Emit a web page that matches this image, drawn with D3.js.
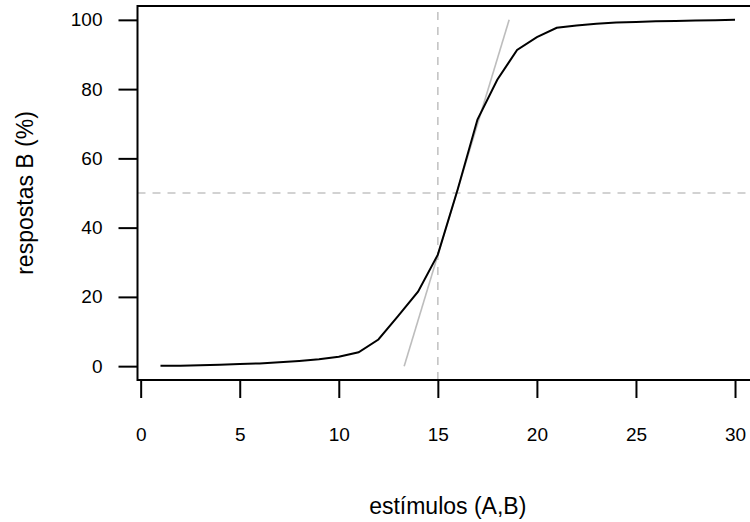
<!DOCTYPE html>
<html lang="pt">
<head>
    <meta charset="UTF-8">
    <title>respostas B</title>
    <script src="https://cdn.jsdelivr.net/npm/d3@7"></script>
    <style>
        body { margin: 0; background: #fff; }
        svg { display: block; font-family: "Liberation Sans", Arial, sans-serif; }
    </style>
</head>
<body>
<svg width="750" height="522"></svg>
<script>

    // stimulus steps and % of B responses
    let estimulos = d3.range(1, 31);
    let respostasB = [0.1, 0.15, 0.25, 0.4, 0.6, 0.8, 1.1, 1.5, 2.0, 2.7,
                      4.0, 7.7, 14.5, 21.5, 32.2, 51, 71.2, 82.7, 91.3, 95.0,
                      97.7, 98.4, 98.9, 99.2, 99.4, 99.6, 99.7, 99.8, 99.9, 100];
    // tangent through the category boundary
    let tangenteX = [13.3, 18.6];
    let tangenteY = [0, 100];
    let xTicks = [0, 5, 10, 15, 20, 25, 30];
    let yTicks = [0, 20, 40, 60, 80, 100];
    let limiteX = 15, limiteY = 50;

    let svg = d3.select("svg");

    // R style 4% padding around the data range
    let x = d3.scaleLinear().domain([-0.16, 31.16]).range([137.5, 758]);
    let y = d3.scaleLinear().domain([-4, 104]).range([380, 6]);

    // dashed reference lines
    svg.append("line")
        .attr("x1", x(limiteX)).attr("x2", x(limiteX))
        .attr("y1", y(-4)).attr("y2", y(104))
        .attr("stroke", "#c4c4c4").attr("stroke-width", 1.6)
        .attr("stroke-dasharray", "8,7");
    svg.append("line")
        .attr("x1", x(-0.16)).attr("x2", x(31.16))
        .attr("y1", y(limiteY)).attr("y2", y(limiteY))
        .attr("stroke", "#c4c4c4").attr("stroke-width", 1.6)
        .attr("stroke-dasharray", "8,7");

    // tangent
    svg.append("line")
        .attr("x1", x(tangenteX[0])).attr("y1", y(tangenteY[0]))
        .attr("x2", x(tangenteX[1])).attr("y2", y(tangenteY[1]))
        .attr("stroke", "#bdbdbd").attr("stroke-width", 1.6);

    // curve
    let line = d3.line()
        .x(function(d, i) { return x(estimulos[i]); })
        .y(function(d) { return y(d); });
    svg.append("path")
        .datum(respostasB)
        .attr("d", line)
        .attr("fill", "none")
        .attr("stroke", "#000")
        .attr("stroke-width", 2);

    // box
    svg.append("rect")
        .attr("x", 137.5).attr("y", 6)
        .attr("width", 758 - 137.5).attr("height", 380 - 6)
        .attr("fill", "none").attr("stroke", "#000").attr("stroke-width", 2);

    // axes
    let xAxis = svg.append("g")
        .attr("transform", "translate(0,380)")
        .call(d3.axisBottom(x).tickValues(xTicks).tickSize(18).tickPadding(30));
    let yAxis = svg.append("g")
        .attr("transform", "translate(137.5,0)")
        .call(d3.axisLeft(y).tickValues(yTicks).tickSize(19).tickPadding(16));

    [xAxis, yAxis].forEach(function(g) {
        g.select(".domain").remove();
        g.selectAll(".tick line").attr("stroke", "#000").attr("stroke-width", 2);
        g.selectAll(".tick text")
            .attr("fill", "#000")
            .style("font-size", "19px")
            .style("font-family", "Liberation Sans, Arial, sans-serif");
    });

    // axis titles (cex.lab 1.2)
    svg.append("text")
        .attr("x", (137.5 + 758) / 2).attr("y", 514)
        .attr("text-anchor", "middle")
        .style("font-size", "23px")
        .text("estímulos (A,B)");
    svg.append("text")
        .attr("transform", "translate(33," + (6 + 380) / 2 + ") rotate(-90)")
        .attr("text-anchor", "middle")
        .style("font-size", "23px")
        .text("respostas B (%)");
</script>
</body>
</html>
